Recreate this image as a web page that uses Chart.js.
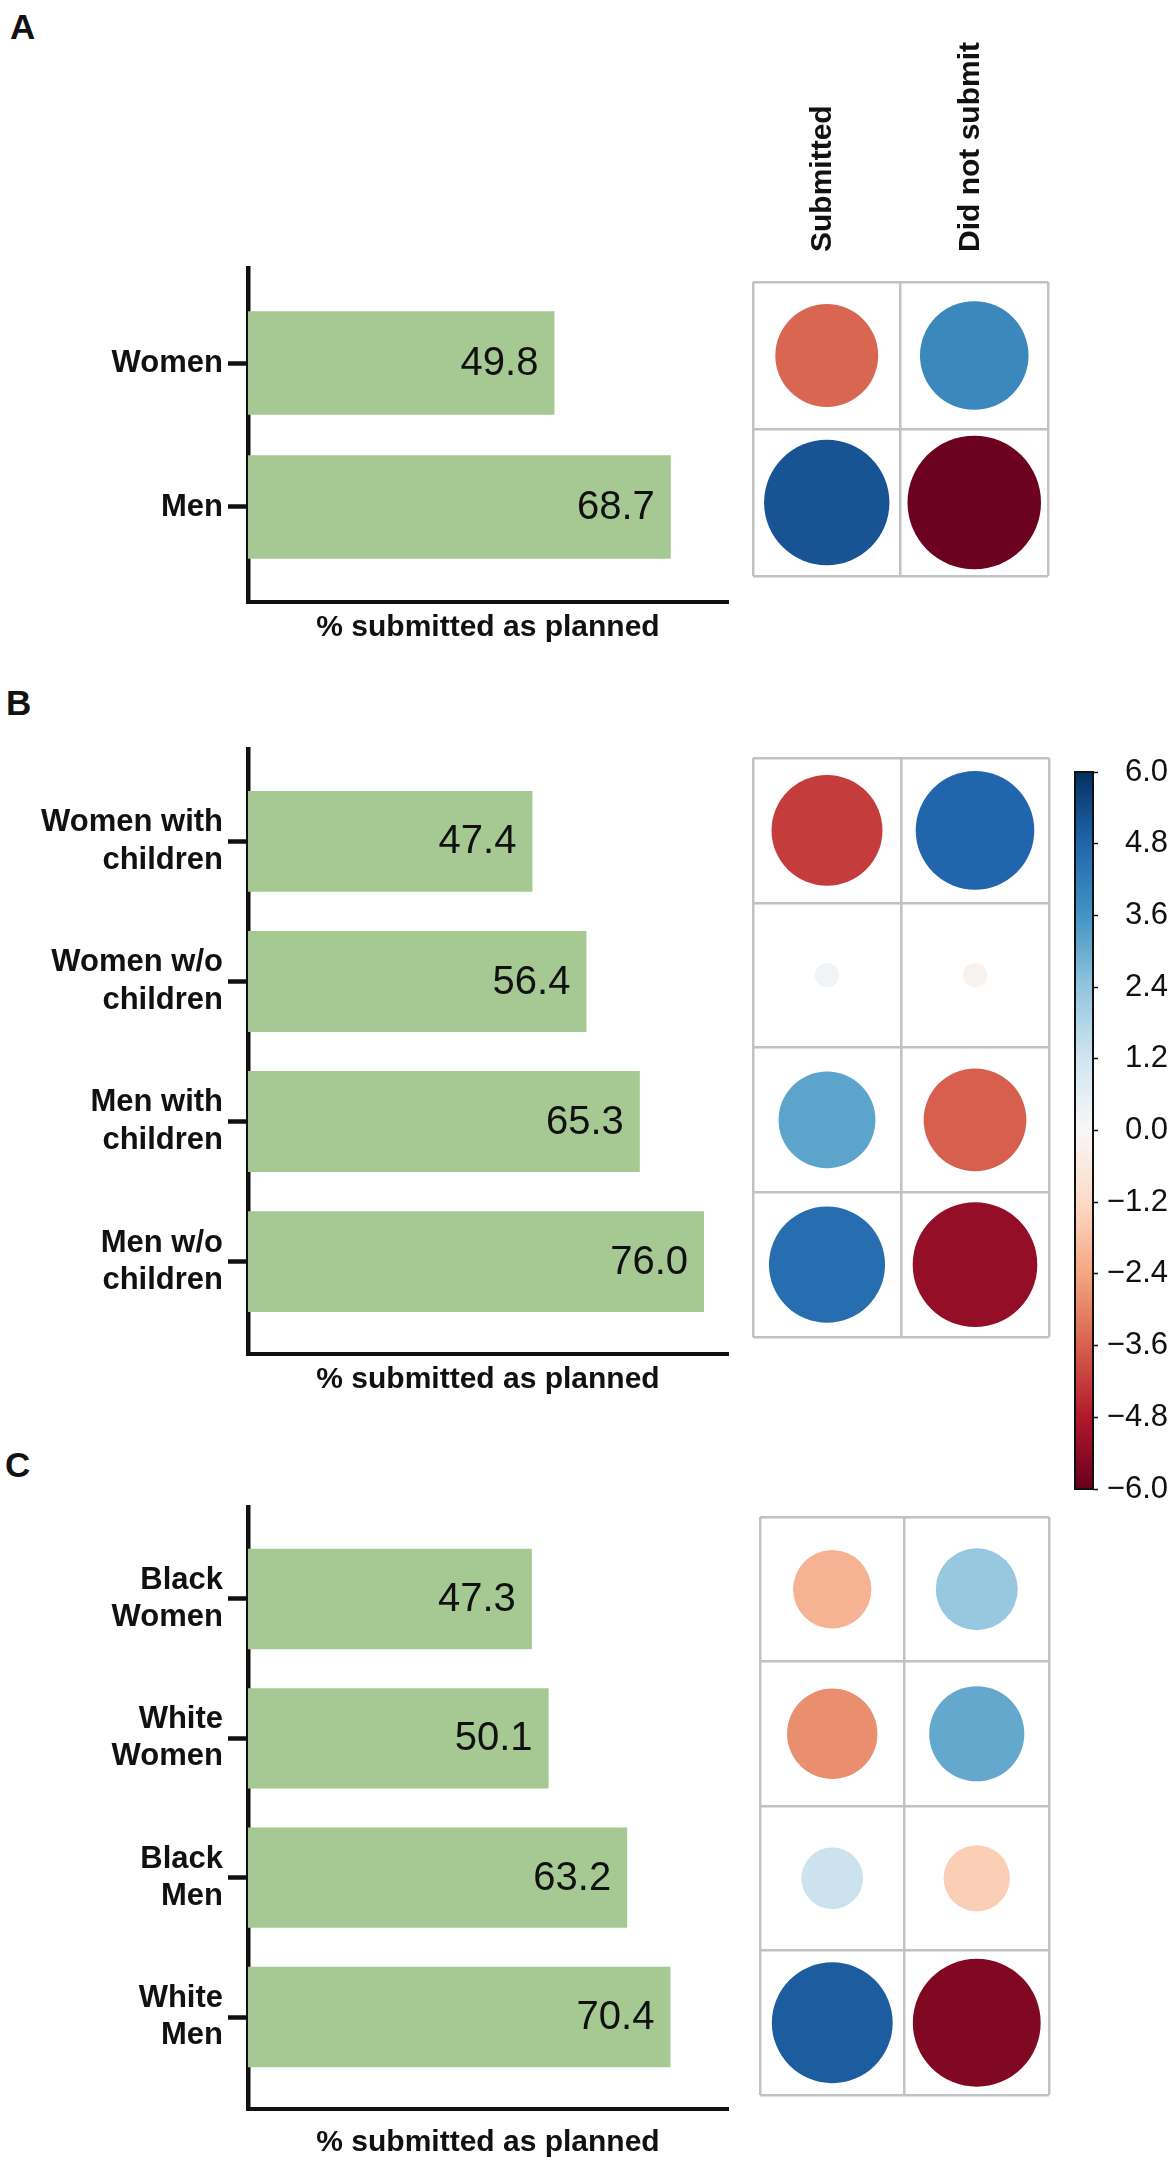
<!DOCTYPE html>
<html lang="en">
<head>
    <meta charset="UTF-8">
    <title>Submission as planned by group</title>
    <script src="https://cdnjs.cloudflare.com/ajax/libs/Chart.js/4.4.0/chart.umd.min.js"></script>
    <style>
        html, body { margin: 0; padding: 0; background: #fff; }
        body {
            width: 1168px; height: 2162px; position: relative; overflow: hidden;
            font-family: "Liberation Sans", Arial, sans-serif;
        }
        canvas { position: absolute; }
        .panel-letter {
            position: absolute; font-weight: bold; font-size: 35px;
            line-height: 35px; color: #111;
        }
    </style>
</head>
<body>
    <div class="panel-letter" style="left:10px;top:9px">A</div>
    <div class="panel-letter" style="left:6px;top:685px">B</div>
    <div class="panel-letter" style="left:5px;top:1447px">C</div>

    <canvas id="barA" width="760" height="410" style="left:0;top:240px"></canvas>
    <canvas id="dotsA" width="330" height="600" style="left:740px;top:0"></canvas>

    <canvas id="barB" width="760" height="700" style="left:0;top:705px"></canvas>
    <canvas id="dotsB" width="330" height="610" style="left:740px;top:740px"></canvas>
    <canvas id="cbar" width="108" height="780" style="left:1060px;top:740px"></canvas>

    <canvas id="barC" width="760" height="699" style="left:0;top:1463px"></canvas>
    <canvas id="dotsC" width="330" height="620" style="left:740px;top:1500px"></canvas>

    <script>
        // bar panels: % submitted as planned
        const labelsA = ['Women', 'Men'];
        const valuesA = [49.8, 68.7];
        const labelsB = [['Women with', 'children'], ['Women w/o', 'children'], ['Men with', 'children'], ['Men w/o', 'children']];
        const valuesB = [47.4, 56.4, 65.3, 76.0];
        const labelsC = [['Black', 'Women'], ['White', 'Women'], ['Black', 'Men'], ['White', 'Men']];
        const valuesC = [47.3, 50.1, 63.2, 70.4];

        const columns = ['Submitted', 'Did not submit'];
        const submittedA = [-3.5, 5.2];
        const notSubmittedA = [3.9, -5.9];
        const submittedB = [-4.2, 0.2, 3.2, 4.6];
        const notSubmittedB = [4.8, -0.2, -3.6, -5.3];
        const submittedC = [-2.1, -2.8, 1.3, 5.0];
        const notSubmittedC = [2.3, 3.1, -1.5, -5.6];

        const colorbarTicks = [6.0, 4.8, 3.6, 2.4, 1.2, 0.0, -1.2, -2.4, -3.6, -4.8, -6.0];

        Chart.defaults.font.family = '"Liberation Sans", Arial, sans-serif';
        Chart.defaults.color = '#111';

        const INK = '#111';
        const GRID = '#c2c2c2';
        const BAR_GREEN = '#a6c993';
        const RDBU = ['#67001f', '#b2182b', '#d6604d', '#f4a582', '#fddbc7', '#f7f7f7',
                      '#d1e5f0', '#92c5de', '#4393c3', '#2166ac', '#053061'];
        const LIMIT = 6;

        function hexToRgb(h) {
            return [1, 3, 5].map(i => parseInt(h.slice(i, i + 2), 16));
        }

        // matplotlib RdBu, -6 .. 6
        function rdbu(v) {
            let t = (v + LIMIT) / (2 * LIMIT);
            t = Math.max(0, Math.min(1, t)) * (RDBU.length - 1);
            const i = Math.min(Math.floor(t), RDBU.length - 2);
            const f = t - i;
            const a = hexToRgb(RDBU[i]), b = hexToRgb(RDBU[i + 1]);
            const c = a.map((x, k) => Math.round(x + (b[k] - x) * f));
            return `rgb(${c[0]},${c[1]},${c[2]})`;
        }

        const barValueLabels = {
            id: 'barValueLabels',
            afterDatasetsDraw(chart) {
                const ctx = chart.ctx;
                const ds = chart.data.datasets[0];
                ctx.save();
                ctx.font = '40px "Liberation Sans", Arial, sans-serif';
                ctx.fillStyle = INK;
                ctx.textAlign = 'right';
                ctx.textBaseline = 'middle';
                chart.getDatasetMeta(0).data.forEach((bar, i) => {
                    ctx.fillText(ds.data[i].x.toFixed(1), bar.x - 16, bar.y + 1);
                });
                ctx.restore();
            }
        };

        function makeBar(id, labels, values, xMax, padTop, padBottom, titleGap) {
            const n = labels.length;
            new Chart(document.getElementById(id), {
                type: 'bar',
                data: {
                    datasets: [{
                        data: values.map((v, i) => ({ x: v, y: i })),
                        backgroundColor: BAR_GREEN,
                        categoryPercentage: 0.72,
                        barPercentage: 1
                    }]
                },
                options: {
                    indexAxis: 'y',
                    responsive: false,
                    animation: false,
                    events: [],
                    layout: { padding: { left: 0, right: 32, top: padTop, bottom: padBottom } },
                    plugins: { legend: { display: false }, tooltip: { enabled: false } },
                    scales: {
                        x: {
                            type: 'linear', min: 0, max: xMax,
                            ticks: { display: false },
                            grid: { display: false },
                            border: { color: INK, width: 4 },
                            title: {
                                display: true, text: '% submitted as planned', color: INK,
                                font: { size: 30, weight: 'bold' }, padding: 0
                            },
                            afterFit: s => { s.height = titleGap; }
                        },
                        y: {
                            type: 'linear', reverse: true, offset: false,
                            min: -0.66, max: n - 1 + 0.66,
                            afterBuildTicks: s => { s.ticks = labels.map((_, i) => ({ value: i })); },
                            ticks: {
                                callback: v => labels[v], autoSkip: false, padding: 5,
                                color: INK, font: { size: 31, weight: 'bold' }
                            },
                            grid: {
                                display: true, offset: false, drawOnChartArea: false,
                                drawTicks: true, tickLength: 20, tickWidth: 4.5, tickColor: INK
                            },
                            border: { color: INK, width: 4.5 },
                            afterFit: s => { s.width = 248; }
                        }
                    }
                },
                plugins: [barValueLabels]
            });
        }

        function makeDots(id, rows, submitted, notSubmitted, pad, headerHeight) {
            const canvas = document.getElementById(id);
            const rowKeys = rows.map(r => [].concat(r).join(' '));
            // circle area follows |residual|, largest circle ~0.92 of a cell
            const cellW = (canvas.width - pad.left - pad.right) / columns.length;
            const cellH = (canvas.height - pad.top - pad.bottom - headerHeight) / rowKeys.length;
            const rMax = 0.458 * Math.min(cellW, cellH);
            const points = [];
            rowKeys.forEach((key, i) => {
                [submitted[i], notSubmitted[i]].forEach((v, j) => {
                    points.push({ x: columns[j], y: key, r: rMax * Math.sqrt(Math.abs(v) / LIMIT), v: v });
                });
            });
            const gridOpts = { offset: true, color: GRID, lineWidth: 2.5, drawTicks: false };
            new Chart(canvas, {
                type: 'bubble',
                data: {
                    datasets: [{
                        data: points,
                        borderWidth: 0,
                        backgroundColor: points.map(p => rdbu(p.v))
                    }]
                },
                options: {
                    responsive: false,
                    animation: false,
                    events: [],
                    layout: { padding: pad, autoPadding: false },
                    plugins: { legend: { display: false }, tooltip: { enabled: false } },
                    scales: {
                        x: {
                            type: 'category', labels: columns, position: 'top', offset: true,
                            grid: gridOpts,
                            border: { display: false },
                            ticks: {
                                display: headerHeight > 0, minRotation: 90, maxRotation: 90,
                                autoSkip: false, padding: 30, labelOffset: 32, color: INK,
                                font: { size: 30, weight: 'bold' }
                            },
                            afterFit: s => { s.height = headerHeight; }
                        },
                        y: {
                            type: 'category', labels: rowKeys, offset: true,
                            grid: gridOpts,
                            border: { display: false },
                            ticks: { display: false },
                            afterFit: s => { s.width = 0; }
                        }
                    }
                }
            });
        }

        const colorbarFill = {
            id: 'colorbarFill',
            beforeDatasetsDraw(chart) {
                const { ctx, chartArea: a, scales: { y } } = chart;
                const g = ctx.createLinearGradient(0, y.getPixelForValue(-LIMIT), 0, y.getPixelForValue(LIMIT));
                RDBU.forEach((c, i) => g.addColorStop(i / (RDBU.length - 1), c));
                ctx.save();
                ctx.fillStyle = g;
                ctx.fillRect(a.left, a.top, a.right - a.left, a.bottom - a.top);
                ctx.strokeStyle = INK;
                ctx.lineWidth = 2;
                ctx.strokeRect(a.left, a.top, a.right - a.left, a.bottom - a.top);
                ctx.restore();
            }
        };

        function fmtTick(v) {
            const s = (Math.abs(v) < 1e-9 ? 0 : v).toFixed(1);
            return s.replace('-', '\u2212');
        }

        makeBar('barA', labelsA, valuesA, 78, 28, 4, 44);
        makeBar('barB', labelsB, valuesB, 80, 44, 7, 44);
        makeBar('barC', labelsC, valuesC, 80, 44, 1, 52);

        makeDots('dotsA', labelsA, submittedA, notSubmittedA, { left: 13, right: 22, top: 0, bottom: 24 }, 282);
        makeDots('dotsB', labelsB, submittedB, notSubmittedB, { left: 13, right: 21, top: 18, bottom: 13 }, 0);
        makeDots('dotsC', labelsC, submittedC, notSubmittedC, { left: 20, right: 21, top: 17, bottom: 25 }, 0);

        new Chart(document.getElementById('cbar'), {
            type: 'bar',
            data: { labels: [], datasets: [] },
            options: {
                responsive: false,
                animation: false,
                events: [],
                layout: { padding: { left: 15, right: 0, top: 32, bottom: 31 } },
                plugins: { legend: { display: false }, tooltip: { enabled: false } },
                scales: {
                    x: { display: false },
                    y: {
                        position: 'right', min: -LIMIT, max: LIMIT,
                        afterBuildTicks: s => { s.ticks = colorbarTicks.map(v => ({ value: v })); },
                        ticks: { callback: fmtTick, padding: 3, crossAlign: 'far', color: INK, font: { size: 31 } },
                        grid: {
                            display: true, drawOnChartArea: false, drawTicks: true,
                            tickLength: 5, tickWidth: 1.5, tickColor: INK
                        },
                        border: { display: false },
                        afterFit: s => { s.width = 75; }
                    }
                }
            },
            plugins: [colorbarFill]
        });
    </script>
</body>
</html>
